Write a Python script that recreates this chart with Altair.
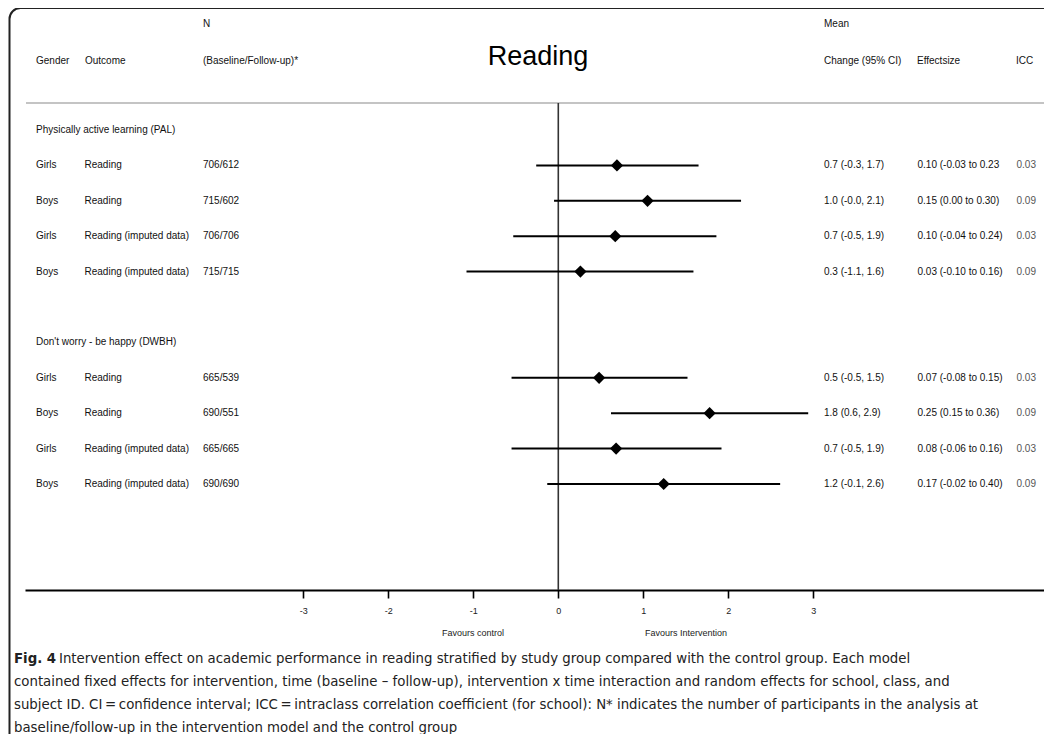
import altair as alt
import pandas as pd

# ---------------- data ----------------
group_names = ["Physically active learning (PAL)", "Don't worry - be happy (DWBH)"]
group_rows = [0, 6]
rows = [1, 2, 3, 4, 7, 8, 9, 10]
gender = ["Girls", "Boys", "Girls", "Boys", "Girls", "Boys", "Girls", "Boys"]
outcome = ["Reading", "Reading", "Reading (imputed data)", "Reading (imputed data)",
           "Reading", "Reading", "Reading (imputed data)", "Reading (imputed data)"]
n_text = ["706/612", "715/602", "706/706", "715/715", "665/539", "690/551", "665/665", "690/690"]
change_text = ["0.7 (-0.3, 1.7)", "1.0 (-0.0, 2.1)", "0.7 (-0.5, 1.9)", "0.3 (-1.1, 1.6)",
               "0.5 (-0.5, 1.5)", "1.8 (0.6, 2.9)", "0.7 (-0.5, 1.9)", "1.2 (-0.1, 2.6)"]
effect_text = ["0.10 (-0.03 to 0.23", "0.15 (0.00 to 0.30)", "0.10 (-0.04 to 0.24)", "0.03 (-0.10 to 0.16)",
               "0.07 (-0.08 to 0.15)", "0.25 (0.15 to 0.36)", "0.08 (-0.06 to 0.16)", "0.17 (-0.02 to 0.40)"]
icc_text = ["0.03", "0.09", "0.03", "0.09", "0.03", "0.09", "0.03", "0.09"]
mean = [0.69, 1.05, 0.67, 0.26, 0.48, 1.78, 0.68, 1.24]
lo = [-0.26, -0.05, -0.53, -1.08, -0.55, 0.62, -0.55, -0.13]
hi = [1.65, 2.15, 1.86, 1.59, 1.52, 2.94, 1.92, 2.61]
tick_values = [-3, -2, -1, 0, 1, 2, 3]

caption_bold = "Fig. 4"
caption_lines = [
    "Intervention effect on academic performance in reading stratified by study group compared with the control group. Each model",
    "contained fixed effects for intervention, time (baseline \u2013 follow-up), intervention x time interaction and random effects for school, class, and",
    "subject ID. CI\u2009=\u2009confidence interval; ICC\u2009=\u2009intraclass correlation coefficient (for school): N* indicates the number of participants in the analysis at",
    "baseline/follow-up in the intervention model and the control group",
]

df = pd.DataFrame({
    "row": rows, "gender": gender, "outcome": outcome, "n": n_text,
    "change": change_text, "effect": effect_text, "icc": icc_text,
    "mean": mean, "lo": lo, "hi": hi,
})
gdf = pd.DataFrame({"row": group_rows, "name": group_names})
one = pd.DataFrame({"a": [0]})

# ---------------- layout ----------------
W, H = 1019, 487
PX_PER_UNIT = 85.0
ZERO_X = 533.3
xdom = [-ZERO_X / PX_PER_UNIT, (W - ZERO_X) / PX_PER_UNIT]
xscale = alt.Scale(domain=xdom, nice=False, zero=False)
ROW_STEP = 35.4
ROW0 = 27.0
yscale = alt.Scale(domain=[-ROW0 / ROW_STEP, (H - ROW0) / ROW_STEP], reverse=True, nice=False, zero=False)

FONT = "Liberation Sans"
CAP_FONT = "DejaVu Sans Condensed, Liberation Sans Narrow, sans-serif"
CAP_FS = 14.8
FS = 10

Y = alt.Y("row:Q", scale=yscale, axis=None)

frame = alt.Chart(one).mark_rect(fill="transparent", stroke="#222", strokeWidth=2, cornerRadius=11).encode(
    x=alt.value(-15.5), x2=alt.value(1300), y=alt.value(-95), y2=alt.value(900))

header_line = alt.Chart(one).mark_rule(color="#c4c4c4", strokeWidth=2).encode(
    x=alt.value(1), x2=alt.value(W), y=alt.value(0))

zero_line = alt.Chart(one).mark_rule(color="#333", strokeWidth=1.6).encode(
    x=alt.X("z:Q", scale=xscale,
            axis=alt.Axis(values=tick_values, title=None, grid=False, domainColor="#000", domainWidth=2,
                          tickColor="#000", tickWidth=1.6, tickSize=8, labelFont=FONT, labelFontSize=9,
                          labelColor="#222", labelPadding=8, labelExpr="toString(datum.value)")),
    y=alt.value(0), y2=alt.value(H)).transform_calculate(z="0")

ci = alt.Chart(df).mark_rule(color="#000", strokeWidth=2).encode(
    x=alt.X("lo:Q", scale=xscale), x2="hi:Q", y=Y)

pts = alt.Chart(df).mark_point(shape="diamond", filled=True, color="#000", size=150, opacity=1).encode(
    x=alt.X("mean:Q", scale=xscale), y=Y)


def col_text(field, xpos, color="#111", data=df):
    return alt.Chart(data).mark_text(align="left", baseline="middle", font=FONT, fontSize=FS, color=color).encode(
        x=alt.value(xpos), y=Y, text=f"{field}:N")


texts = [
    col_text("gender", 11), col_text("outcome", 59.5), col_text("n", 178),
    col_text("change", 799), col_text("effect", 892.5), col_text("icc", 991.5, color="#555"),
    col_text("name", 11, data=gdf),
]


def fixed_text(txt, xpos, ypos, size=FS, font=FONT, weight="normal", align="left", color="#111"):
    return alt.Chart(one).mark_text(align=align, baseline="middle", font=font, fontSize=size,
                                    fontWeight=weight, color=color).encode(
        x=alt.value(xpos), y=alt.value(ypos), text=alt.value(txt))


headers = [
    fixed_text("N", 178, -79), fixed_text("(Baseline/Follow-up)*", 178, -42),
    fixed_text("Gender", 11, -42), fixed_text("Outcome", 60, -42),
    fixed_text("Mean", 799, -79), fixed_text("Change (95% CI)", 799, -42),
    fixed_text("Effectsize", 892, -42), fixed_text("ICC", 991, -42),
    fixed_text("Reading", 513, -46, size=27, align="center", color="#000"),
    fixed_text("Favours control", 448, 530, size=9, align="center", color="#222"),
    fixed_text("Favours Intervention", 661, 530, size=9, align="center", color="#222"),
]

cap_y = [555.5, 579, 602, 624.5]
captions = [fixed_text(caption_bold, -11, cap_y[0], size=CAP_FS, font=CAP_FONT, weight="bold", color="#222")]
captions.append(fixed_text(caption_lines[0], 34, cap_y[0], size=CAP_FS, font=CAP_FONT, color="#222"))
for t, yy in zip(caption_lines[1:], cap_y[1:]):
    captions.append(fixed_text(t, -11, yy, size=CAP_FS, font=CAP_FONT, color="#222"))

chart = alt.layer(frame, header_line, zero_line, ci, pts, *texts, *headers, *captions).properties(
    width=W, height=H,
    autosize=alt.AutoSizeParams(type="none"),
    padding={"left": 17, "top": 95, "right": 0, "bottom": 144},
).configure_view(stroke=None)

chart.save("out.html", embed_options={"renderer": "svg", "actions": False})
